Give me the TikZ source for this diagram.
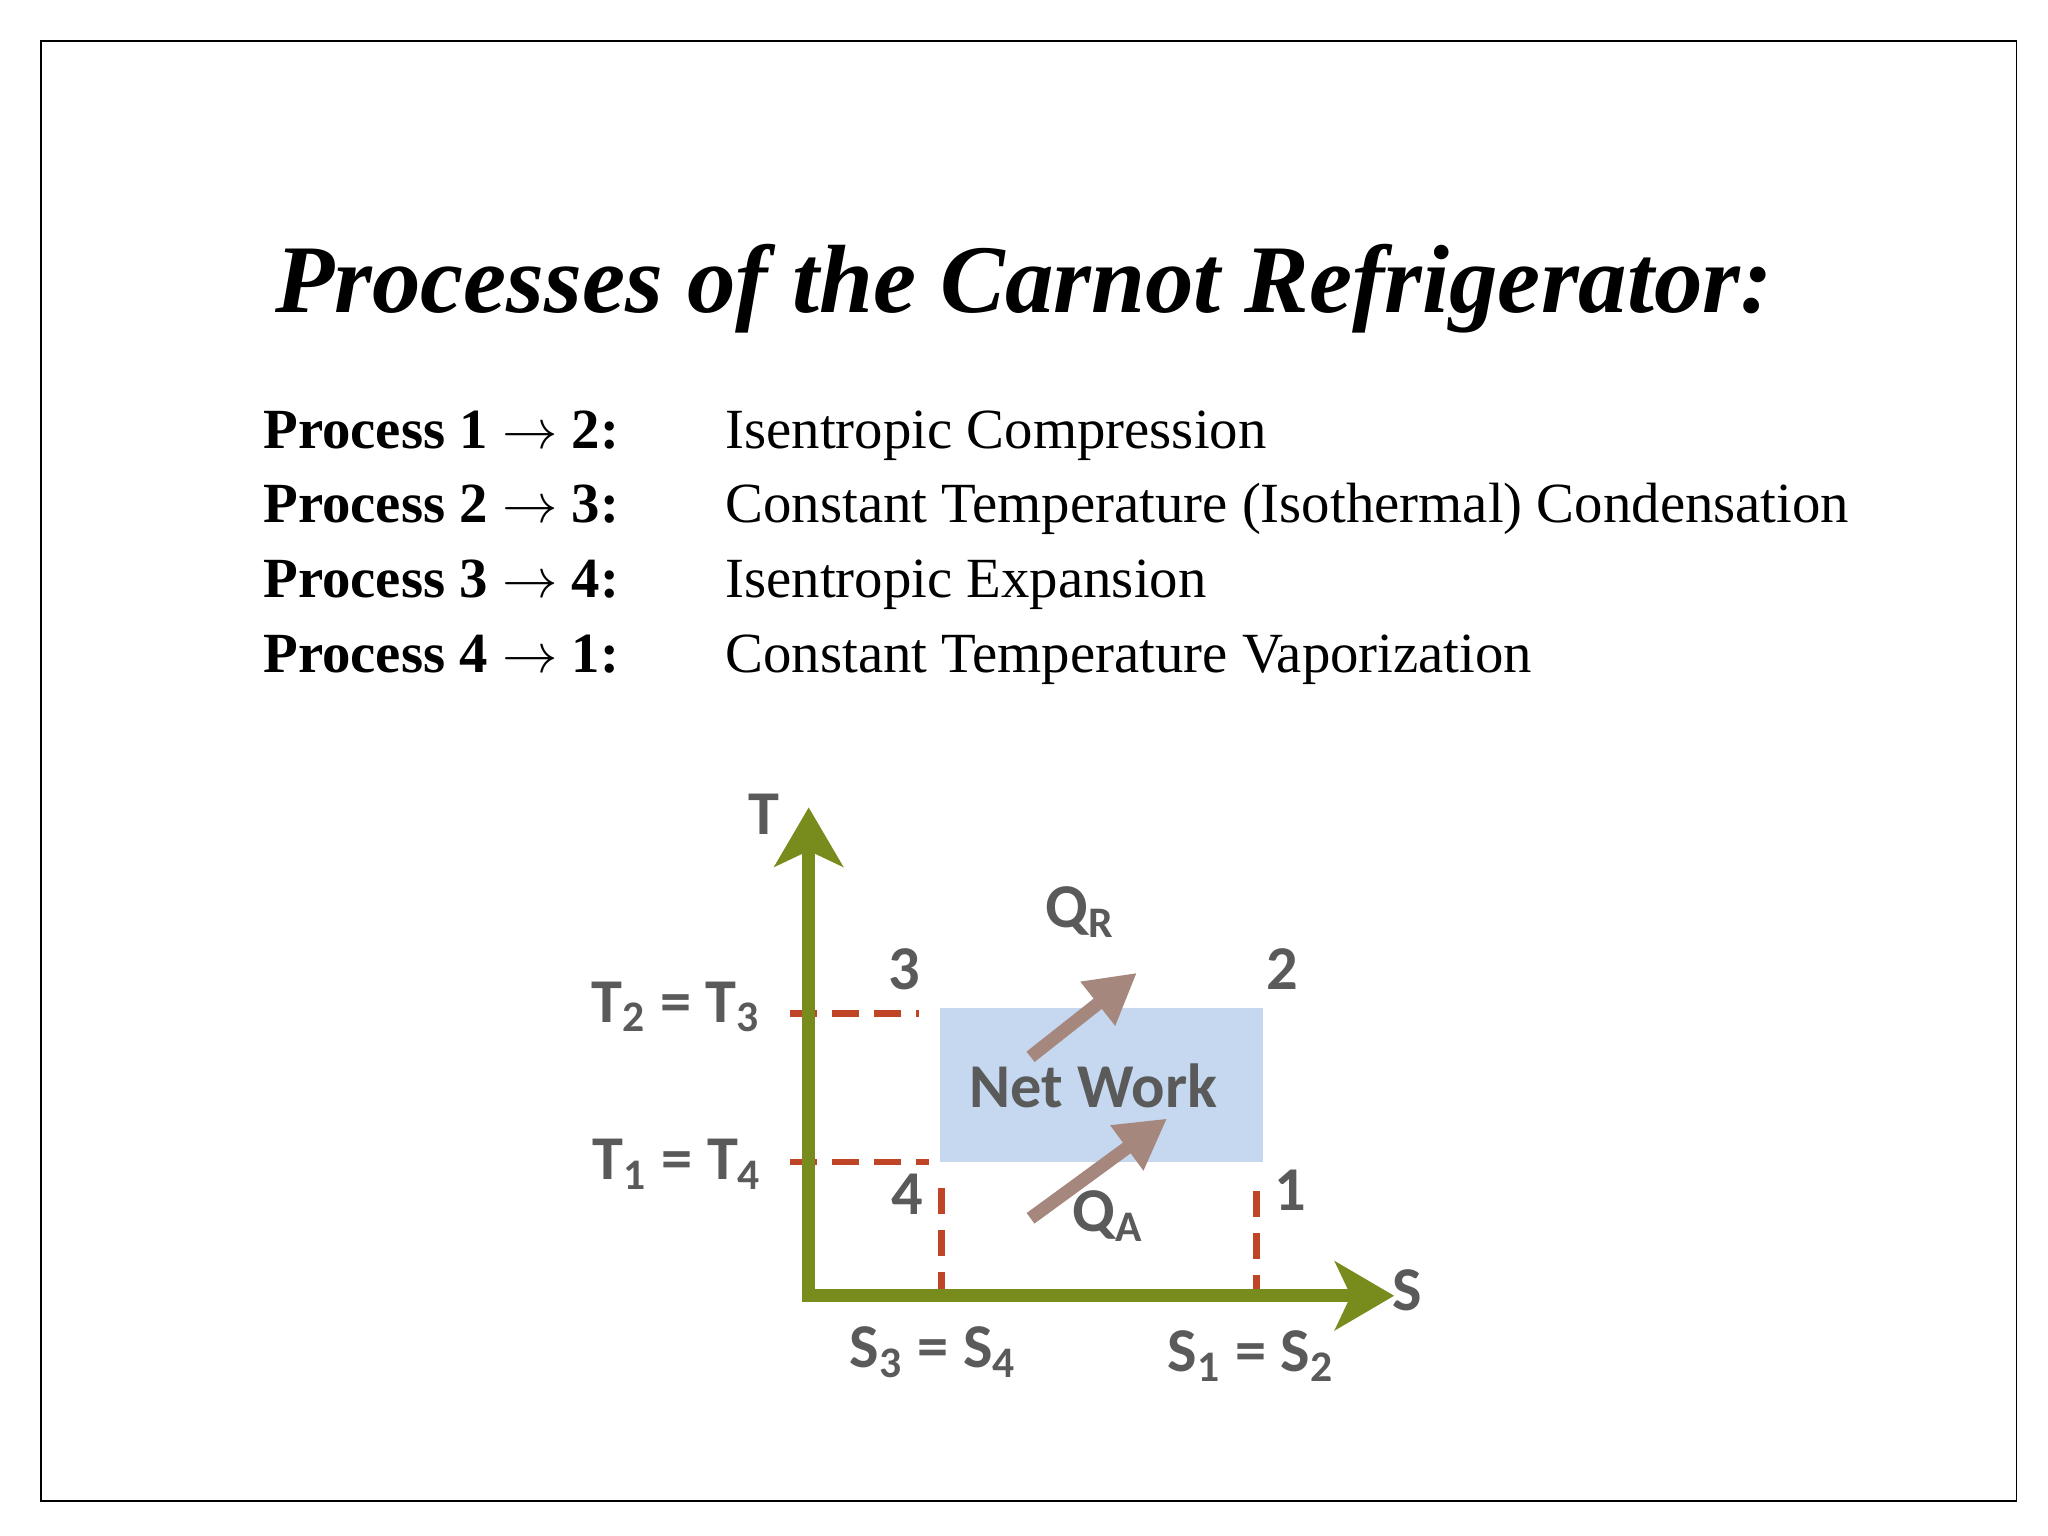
\documentclass[tikz,border=0pt]{standalone}
\usepackage{fontspec}
\setmainfont{Liberation Serif}
\newfontfamily\lbl{Carlito}
\usetikzlibrary{arrows.meta}
\definecolor{axg}{RGB}{120,140,30}
\definecolor{dred}{RGB}{192,68,38}
\definecolor{nbox}{RGB}{197,216,240}
\definecolor{brn}{RGB}{165,135,125}
\definecolor{gtx}{RGB}{90,90,90}
\begin{document}
\begin{tikzpicture}[x=0.01cm,y=-0.01cm,
  axis/.style={draw=axg,line width=10\pgflinewidth/10*0+0.1cm,-{Stealth[length=0.45cm,width=0.52cm,inset=0.12cm]}},
  dsh/.style={draw=dred,line width=0.05cm,dash pattern=on 0.2cm off 0.12cm},
  harr/.style={draw=brn,line width=0.1cm,-{Triangle[length=0.38cm,width=0.4cm]}},
  lab/.style={font=\lbl\bfseries\fontsize{13.5pt}{14pt}\selectfont,text=gtx,inner sep=0},
  proc/.style={font=\fontsize{12.3pt}{14pt}\selectfont,anchor=base west,inner sep=0}]
\useasboundingbox (0,0) rectangle (1560,1170);
\draw[line width=0.015cm] (31,31) rectangle (1536,1143);
\node[font=\bfseries\itshape\fontsize{21pt}{24pt}\selectfont] (title) at (780,220) {Processes of the Carnot Refrigerator:};
\foreach \i/\a/\b/\d/\y in {1/1/2/Isentropic Compression/342,2/2/3/Constant Temperature (Isothermal) Condensation/398,3/3/4/Isentropic Expansion/455,4/4/1/Constant Temperature Vaporization/512}{
  \node[proc,font=\bfseries\fontsize{12.3pt}{14pt}\selectfont] (p\i) at (200,\y) {Process \a\ $\rightarrow$ \b:};
  \node[proc] (d\i) at (552,\y) {\d};
}
\fill[nbox] (716,768) rectangle (962,885);
\coordinate (o) at (616,987);
\coordinate (ty) at (616,615);
\coordinate (sx) at (1062,987);
\draw[dsh] (602,772) -- (700,772);
\draw[dsh] (602,885) -- (708,885);
\draw[dsh] (717,905) -- (717,1000);
\draw[dsh] (957,907) -- (957,1000);
\draw[axis] (616,992) -- (ty);
\draw[axis] (611,987) -- (sx);
\coordinate (r1) at (785,805); \coordinate (r2) at (866,741);
\coordinate (a1) at (785,928); \coordinate (a2) at (889,852);
\draw[harr] (r1) -- (r2);
\draw[harr] (a1) -- (a2);
\node[lab] (T) at (582,620) {T};
\node[lab] (S) at (1072,983) {S};
\node[lab] (QR) at (823,695) {Q\textsubscript{R}};
\node[lab] (n3) at (689,738) {3};
\node[lab] (n2) at (977,738) {2};
\node[lab] (T23) at (515,767) {T\textsubscript{2} = T\textsubscript{3}};
\node[lab] (NW) at (833,827) {Net Work};
\node[lab] (T14) at (516,887) {T\textsubscript{1} = T\textsubscript{4}};
\node[lab] (n4) at (691,910) {4};
\node[lab] (n1) at (983,907) {1};
\node[lab] (QA) at (844,926) {Q\textsubscript{A}};
\node[lab] (S34) at (711,1030) {S\textsubscript{3} = S\textsubscript{4}};
\node[lab] (S12) at (953,1033) {S\textsubscript{1} = S\textsubscript{2}};
\end{tikzpicture}
\end{document}
